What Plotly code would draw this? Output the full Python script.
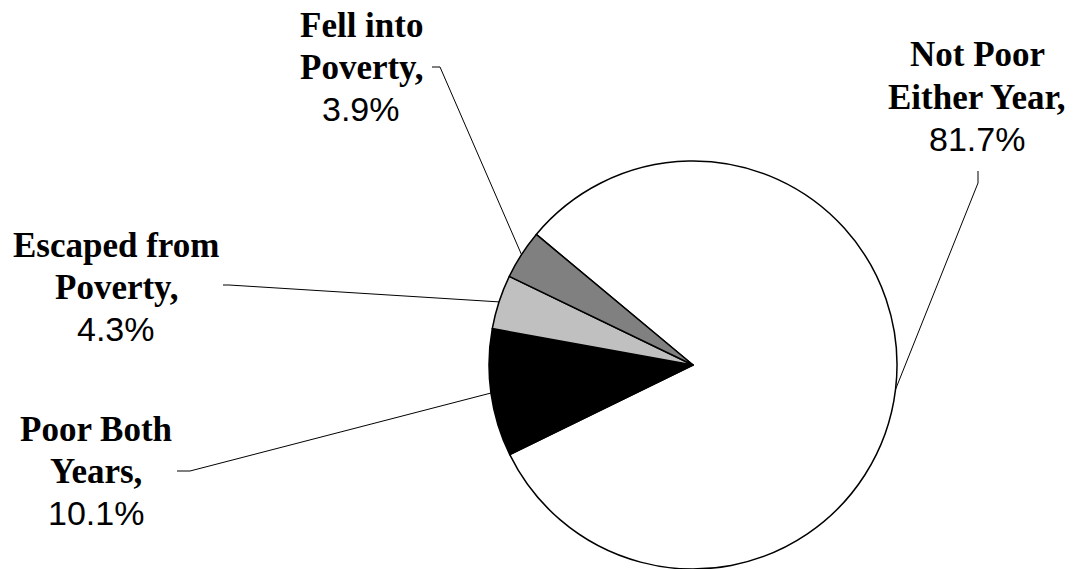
import math
import plotly.graph_objects as go

# Poverty transitions between two years (share of population, %)
categories = ["Not Poor Either Year", "Poor Both Years", "Escaped from Poverty", "Fell into Poverty"]
shares = [81.7, 10.1, 4.3, 3.9]
slice_colors = ["#FFFFFF", "#000000", "#C0C0C0", "#808080"]
label_lines = [
    ["Not Poor", "Either Year,"],
    ["Poor Both", "Years,"],
    ["Escaped from", "Poverty,"],
    ["Fell into", "Poverty,"],
]

W, H = 1078, 569
CX, CY, R = 693, 365, 204          # pie centre and radius in pixels
START = -50.2                      # clockwise start angle from 12 o'clock
LINE_GAP = 42

# centre of each label block and the first points of its leader line
label_pos = [(977, 97), (96, 471), (116, 287), (361, 67)]
leader_start = [
    [(978, 171), (978, 183)],
    [(177, 471), (190, 471)],
    [(223, 285), (229, 285)],
    [(432, 67), (440, 67)],
]


def px(x):
    return x / W


def py(y):
    return 1 - y / H


fig = go.Figure(
    go.Pie(
        labels=categories,
        values=shares,
        sort=False,
        direction="clockwise",
        rotation=START,
        textinfo="none",
        hoverinfo="skip",
        showlegend=False,
        marker=dict(colors=slice_colors, line=dict(color="#000000", width=1.5)),
        domain=dict(x=[px(CX - R), px(CX + R)], y=[py(CY + R), py(CY - R)]),
    )
)

shapes = []
annotations = []
total = sum(shares)
cum = 0.0
for cat, val, lines, (lx, ly), starts in zip(categories, shares, label_lines, label_pos, leader_start):
    mid = math.radians(START + (cum + val / 2) / total * 360)
    cum += val
    ex = CX + R * math.sin(mid)
    ey = CY - R * math.cos(mid)
    pts = starts + [(ex, ey)]
    for (x0, y0), (x1, y1) in zip(pts[:-1], pts[1:]):
        shapes.append(dict(type="line", xref="paper", yref="paper",
                           x0=px(x0), y0=py(y0), x1=px(x1), y1=py(y1),
                           line=dict(color="#000000", width=1)))
    rows = [(t, True) for t in lines] + [(f"{val:.1f}%", False)]
    n = len(rows)
    for i, (t, bold) in enumerate(rows):
        yy = ly + (i - (n - 1) / 2) * LINE_GAP
        annotations.append(dict(
            x=px(lx), y=py(yy), xref="paper", yref="paper",
            xanchor="center", yanchor="middle", showarrow=False,
            text=f"<b>{t}</b>" if bold else t,
            font=dict(family="Liberation Serif" if bold else "Liberation Sans",
                      size=35 if bold else 34, color="#000000"),
        ))

fig.update_layout(
    width=W, height=H,
    margin=dict(l=0, r=0, t=0, b=0),
    paper_bgcolor="#FFFFFF", plot_bgcolor="#FFFFFF",
    shapes=shapes, annotations=annotations,
)

fig.write_html("out.html")
